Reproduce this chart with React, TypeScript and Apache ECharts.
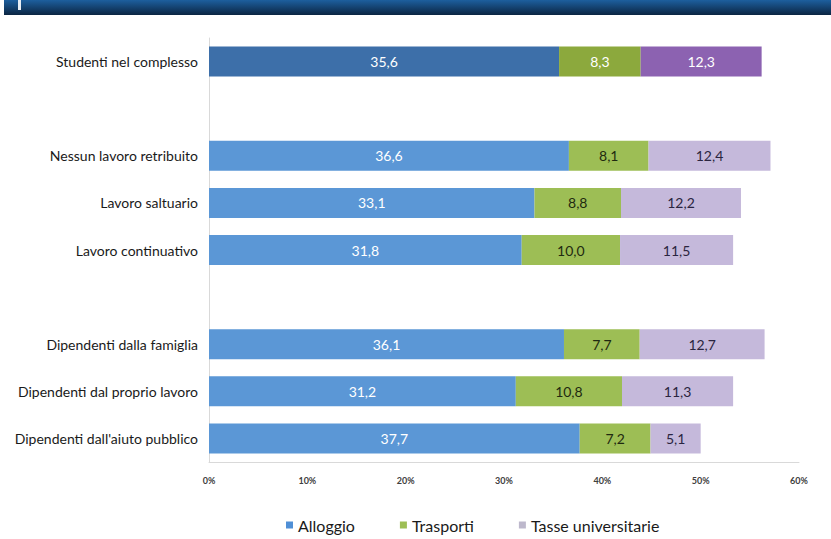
import React, { useEffect, useRef } from "react";
import * as echarts from "echarts";

const categories = [
  "Studenti nel complesso",
  "",
  "Nessun lavoro retribuito",
  "Lavoro saltuario",
  "Lavoro continuativo",
  " ",
  "Dipendenti dalla famiglia",
  "Dipendenti dal proprio lavoro",
  "Dipendenti dall'aiuto pubblico",
];
const alloggio = [35.6, null, 36.6, 33.1, 31.8, null, 36.1, 31.2, 37.7];
const trasporti = [8.3, null, 8.1, 8.8, 10.0, null, 7.7, 10.8, 7.2];
const tasse = [12.3, null, 12.4, 12.2, 11.5, null, 12.7, 11.3, 5.1];
const seriesNames = ["Alloggio", "Trasporti", "Tasse universitarie"];
const xTicks = [0, 10, 20, 30, 40, 50, 60];

const baseColors = ["#5B97D6", "#9DBE55", "#C5B9DB"];
const totalColors = ["#3D6FA9", "#8CA93D", "#8C62B1"];
const baseLabelColors = ["#ffffff", "#1f2a10", "#2a2540"];

export default function App() {
  const ref = useRef<HTMLDivElement>(null);
  useEffect(() => {
    if (!ref.current) return;
    const chart = echarts.init(ref.current, null, { renderer: "svg" });
    const fmt = (v: number) => v.toFixed(1).replace(".", ",");
    const build = (vals: (number | null)[], i: number) => ({
      name: seriesNames[i],
      type: "bar",
      stack: "tot",
      barWidth: 30,
      itemStyle: { color: baseColors[i] },
      label: {
        show: true,
        position: "inside",
        color: baseLabelColors[i],
        fontFamily: "Lato",
        fontSize: 14,
        formatter: (p: any) => (p.value == null ? "" : fmt(p.value)),
      },
      data: vals.map((v, k) =>
        k === 0 && v != null
          ? { value: v, itemStyle: { color: totalColors[i] }, label: { color: "#ffffff" } }
          : v
      ),
    });
    chart.setOption({
      animation: false,
      backgroundColor: "#ffffff",
      textStyle: { fontFamily: "Lato" },
      graphic: [
        {
          type: "rect",
          shape: { x: 4, y: 0, width: 827, height: 15 },
          style: {
            fill: new echarts.graphic.LinearGradient(0, 0, 0, 1, [
              { offset: 0, color: "#1d5f9e" },
              { offset: 1, color: "#0b2542" },
            ]),
          },
        },
        {
          type: "rect",
          shape: { x: 18, y: 0, width: 3, height: 10 },
          style: { fill: "#e8eef5" },
        },
      ],
      grid: { left: 209, right: 32, top: 38, bottom: 77, containLabel: false },
      xAxis: {
        type: "value",
        min: 0,
        max: 60,
        interval: 10,
        splitLine: { show: false },
        axisLine: { show: true, lineStyle: { color: "#d9d9d9" } },
        axisTick: { show: false },
        axisLabel: {
          formatter: (v: number) => (xTicks.includes(v) ? v + "%" : ""),
          color: "#404040",
          fontSize: 9,
          fontWeight: "bold",
          margin: 14,
          fontFamily: "Lato",
        },
      },
      yAxis: {
        type: "category",
        inverse: true,
        data: categories,
        axisLine: { show: true, lineStyle: { color: "#d9d9d9" } },
        axisTick: { show: false },
        axisLabel: {
          color: "#1a1a1a",
          fontSize: 14,
          margin: 11,
          fontFamily: "Lato",
        },
      },
      legend: {
        bottom: 1,
        left: 281,
        itemWidth: 7,
        itemHeight: 7,
        itemGap: 45,
        icon: "rect",
        textStyle: { fontSize: 16, color: "#1a1a1a", fontFamily: "Lato" },
        data: [
          { name: "Alloggio", itemStyle: { color: "#4F8FD6" } },
          { name: "Trasporti", itemStyle: { color: "#9DBE55" } },
          { name: "Tasse universitarie", itemStyle: { color: "#BDB8CC" } },
        ],
      },
      series: [build(alloggio, 0), build(trasporti, 1), build(tasse, 2)],
    });
    return () => chart.dispose();
  }, []);
  return (
    <div
      ref={ref}
      style={{ position: "fixed", left: 0, top: 0, width: 831, height: 539 }}
    />
  );
}
